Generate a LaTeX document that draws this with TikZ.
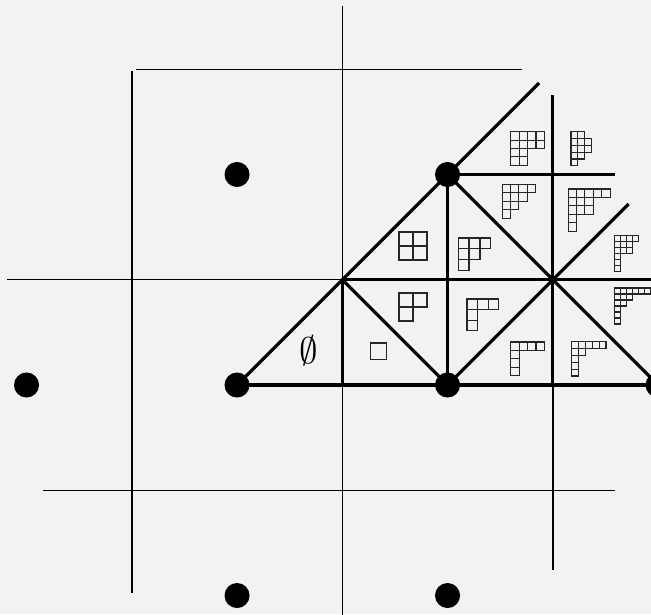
\documentclass[tikz,border=0pt]{standalone}
\tikzset{
  thinline/.style={line width=0.4pt},
  thickline/.style={line width=0.85pt},
  cell/.style={line width=0.3pt,draw=black!85},
  dot/.style={fill=black},
}
% Young diagram: top-left corner, cell size, row lengths
\newcommand{\ydiag}[3]{%
  \begin{scope}[shift={#1},x=#2cm,y=#2cm]
    \foreach \r [count=\i] in {#3}
      \foreach \c in {1,...,\r}
        \draw[cell] (\c-1,-\i) rectangle (\c,1-\i);
  \end{scope}}
\begin{document}
\begin{tikzpicture}
\fill[black!5] (-2.252,-2.176) rectangle (3.933,3.658);
\useasboundingbox (-2.252,-2.176) rectangle (3.933,3.658);
\clip (-2.252,-2.176) rectangle (3.933,3.658);
% thin grid
\draw[thinline] (-1,2.98) -- (-1,-1.98);
\draw[thinline] (1,3.6) -- (1,-2.3);
\draw[thinline] (3,2.755) -- (3,-1.76);
\draw[thinline] (-0.96,3) -- (2.71,3);
\draw[thinline] (-2.185,1) -- (4.1,1);
\draw[thinline] (-1.84,-1) -- (3.59,-1);
% thick walls
\draw[thickline] (0,0) -- (2.87,2.87);
\draw[thickline] (0,0) -- (4.1,0);
\draw[thickline] (1,1) -- (4.1,1);
\draw[thickline] (2,2) -- (3.59,2);
\draw[thickline] (1,0) -- (1,1);
\draw[thickline] (2,0) -- (2,2);
\draw[thickline] (3,0) -- (3,2.755);
\draw[thickline] (1,1) -- (2,0);
\draw[thickline] (2,2) -- (4.1,-0.1);
\draw[thickline] (2,0) -- (3.72,1.72);
% lattice points
\foreach \p in {(0,2),(2,2),(-2,0),(0,0),(2,0),(4,0),(0,-2),(2,-2)}
  \fill[dot] \p circle (0.119);
% labels
\node at (0.678,0.323) {$\emptyset$};
\ydiag{(1.264,0.399)}{0.157}{1}
\ydiag{(1.539,0.874)}{0.133}{2,1}
\ydiag{(1.539,1.454)}{0.133}{2,2}
\ydiag{(2.10,1.397)}{0.104}{3,2,1}
\ydiag{(2.185,0.817)}{0.101}{3,1,1}
\ydiag{(2.518,1.905)}{0.08}{4,3,2,1}
\ydiag{(2.60,0.409)}{0.08}{4,1,1,1}
\ydiag{(3.18,0.411)}{0.065}{5,2,1,1,1}
\ydiag{(3.582,0.922)}{0.057}{6,3,2,1,1,1}
\ydiag{(3.145,1.862)}{0.08}{5,3,3,1,1}
\ydiag{(3.582,1.419)}{0.057}{4,3,3,1,1,1}
\ydiag{(2.60,2.407)}{0.08}{4,4,2,2}
\ydiag{(3.173,2.407)}{0.065}{2,3,3,2,1}
\end{tikzpicture}
\end{document}
